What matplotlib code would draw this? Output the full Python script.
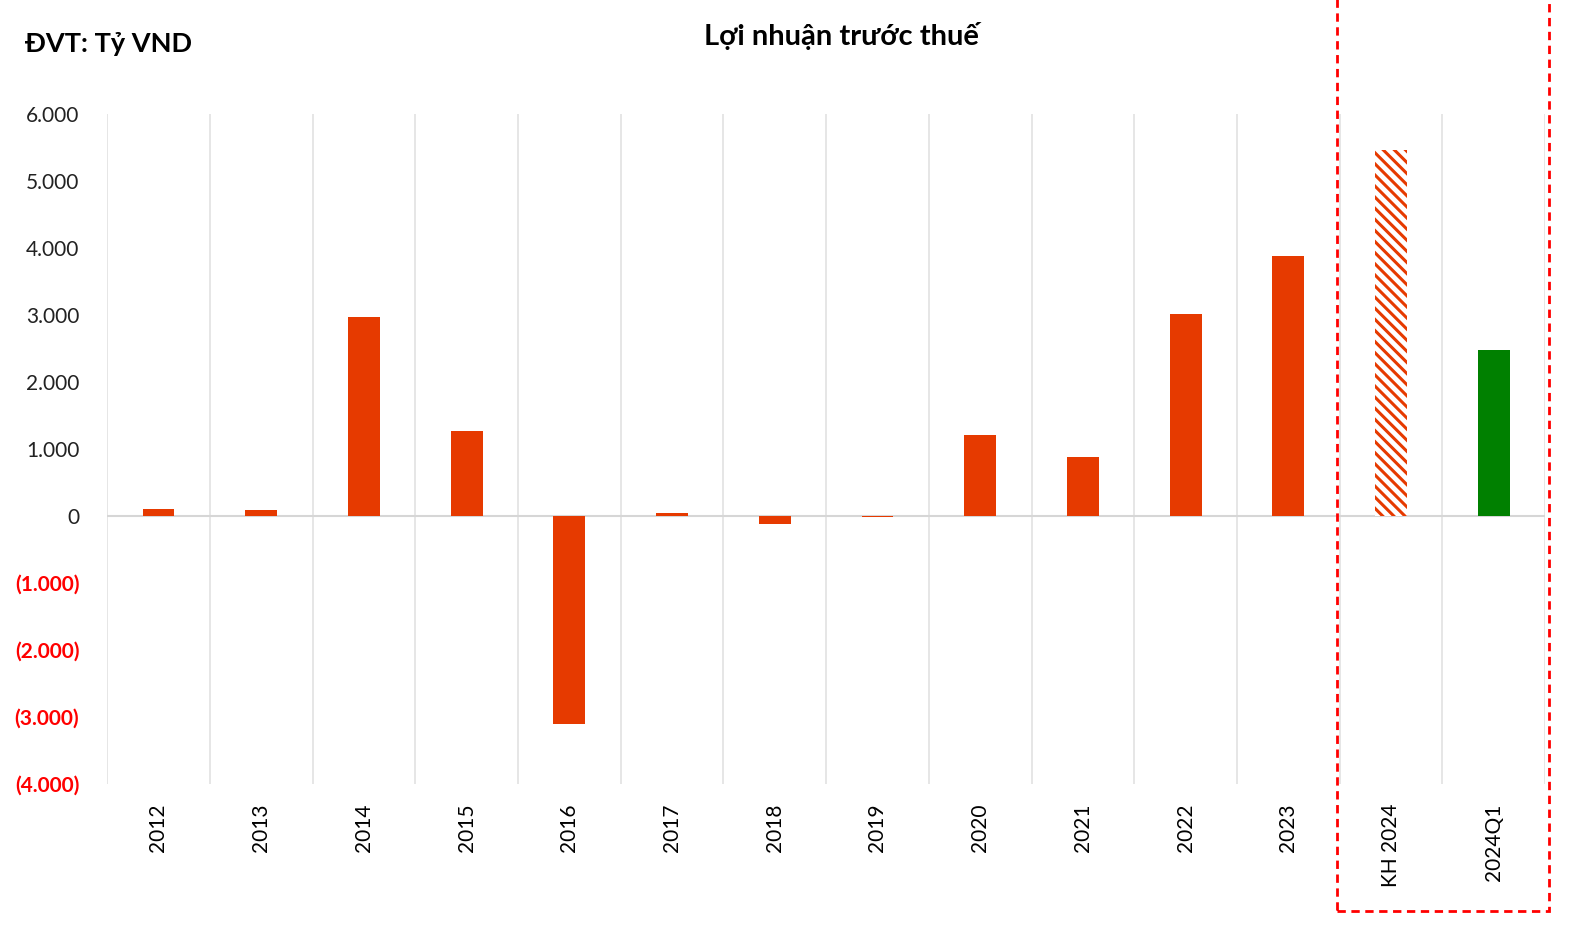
import numpy as np
import matplotlib.pyplot as plt
from matplotlib.patches import Rectangle

plt.rcParams['font.family'] = ['Lato', 'DejaVu Sans']
plt.rcParams['hatch.linewidth'] = 2.2

# du lieu loi nhuan truoc thue (ty VND)
categories = ["2012", "2013", "2014", "2015", "2016", "2017", "2018", "2019",
              "2020", "2021", "2022", "2023", "KH 2024", "2024Q1"]
values = [105, 85, 2965, 1265, -3100, 40, -120, -10,
          1205, 880, 3010, 3875, 5470, 2475]
yticks = [6000, 5000, 4000, 3000, 2000, 1000, 0, -1000, -2000, -3000, -4000]

orange = "#E63A00"
green = "#008000"

fig = plt.figure(figsize=(15.75, 9.35), dpi=100)
ax = fig.add_axes([0.068, 0.1615, 0.913, 0.7165])

x = np.arange(len(categories))
for i, v in enumerate(values):
    if categories[i] == "KH 2024":
        ax.bar(i, v, width=0.31, color="white", edgecolor=orange, hatch="\\\\\\",
               linewidth=0)
    elif categories[i] == "2024Q1":
        ax.bar(i, v, width=0.31, color=green)
    else:
        ax.bar(i, v, width=0.31, color=orange)

ax.set_xlim(-0.5, len(categories) - 0.5)
ax.set_ylim(-4000, 6000)
for b in np.arange(-0.5, len(categories), 1.0):
    ax.axvline(b, color="#e2e2e2", lw=1.2, zorder=0)
ax.axhline(0, color="#d6d6d6", lw=1.5, zorder=0)

for s in ax.spines.values():
    s.set_visible(False)
ax.tick_params(length=0)

ax.set_xticks(x)
ax.set_xticklabels(categories, rotation=90, fontsize=15)
ax.set_yticks(yticks)
labels = []
for t in yticks:
    if t < 0:
        labels.append("({:,})".format(-t).replace(",", "."))
    else:
        labels.append("{:,}".format(t).replace(",", "."))
ax.set_yticklabels(labels, fontsize=15)
for lab, t in zip(ax.get_yticklabels(), yticks):
    if t < 0:
        lab.set_color("red")
        lab.set_fontweight("bold")
    else:
        lab.set_color("#222222")
ax.tick_params(axis="y", pad=20)
ax.tick_params(axis="x", pad=14)

fig.text(0.534, 0.961, "Lợi nhuận trước thuế", ha="center", va="center",
         fontsize=21, fontweight="bold")
fig.text(0.016, 0.953, "ĐVT: Tỷ VND", ha="left", va="center",
         fontsize=19.5, fontweight="bold")

# khung net dut quanh ke hoach 2024
rect = Rectangle((1337 / 1575, 1 - 911 / 935), (1549 - 1337) / 1575, 1.0,
                 transform=fig.transFigure, fill=False, edgecolor="red",
                 linestyle=(0, (3, 2)), lw=2, clip_on=False)
fig.patches.append(rect)

fig.savefig("out.png", dpi=100)
